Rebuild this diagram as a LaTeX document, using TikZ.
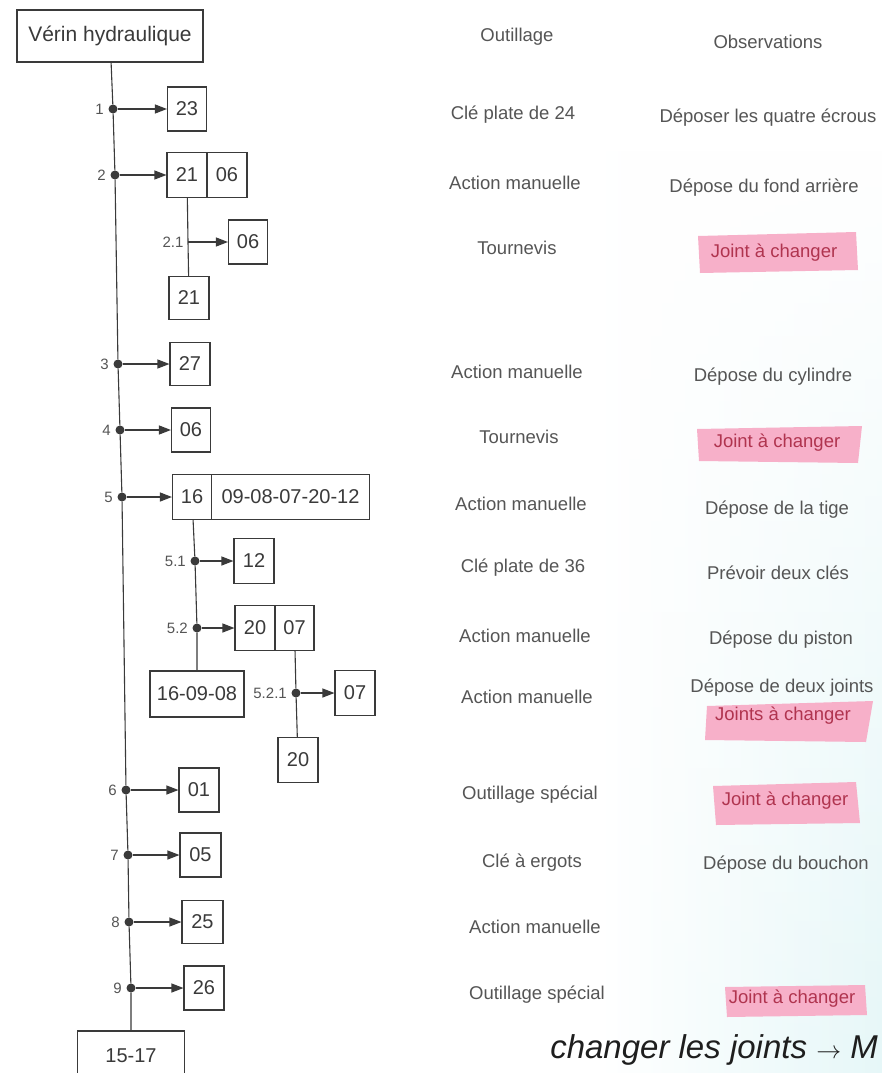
\documentclass[tikz,border=0pt]{standalone}
\usepackage{fontspec}
\setmainfont{Liberation Sans}
\usepackage{tikz}
\usetikzlibrary{arrows.meta,fadings}
\definecolor{Trait}{HTML}{3A3A3A}
\definecolor{Texte}{HTML}{555555}
\definecolor{Rose}{HTML}{F7B0C9}
\definecolor{RougeTexte}{HTML}{B0344F}
\definecolor{Azur}{HTML}{E6F7F8}
\definecolor{Encre}{HTML}{1E1E1E}

\begin{document}
\begin{tikzpicture}[x=1pt,y=-1pt,
    piece/.style={draw=Trait,line width=1.1pt,inner sep=2pt,text=Trait,font=\fontsize{20}{24}\selectfont},
    point/.style={circle,fill=Trait,inner sep=0pt,minimum size=9pt},
    etiq/.style={text=Texte,font=\fontsize{15}{18}\selectfont,label distance=1pt},
    trait/.style={draw=Trait,line width=1.1pt},
    fleche/.style={trait,-{Triangle[length=12pt,width=9pt]}},
    outil/.style={text=Texte,font=\fontsize{18.5}{22}\selectfont},
    marque/.style={text=RougeTexte,font=\fontsize{18.5}{22}\selectfont}]
        \clip (0,0) rectangle (882,1073);
        \fill[white] (0,0) rectangle (882,1073);
        \shade[left color=white,right color=Azur,path fading=north] (600,150) rectangle (882,1073);
        % surlignage
        \fill[Rose] (698,236) -- (856,232) -- (858,270) -- (700,273) -- cycle;
        \fill[Rose] (697,429) -- (862,426) -- (858,463) -- (699,461) -- cycle;
        \fill[Rose] (707,706) -- (873,701) -- (866,742) -- (705,740) -- cycle;
        \fill[Rose] (713,786) -- (856,782) -- (860,823) -- (716,825) -- cycle;
        \fill[Rose] (725,987) -- (865,985) -- (867,1015) -- (727,1017) -- cycle;

        \node[piece,minimum width=186,minimum height=52,font=\fontsize{21}{25}\selectfont] (verin) at (110,36) {Vérin hydraulique};
        \node[point,label={[etiq]left:1}] (p1) at (113,109) {};
        \node[point,label={[etiq]left:2}] (p2) at (115,175) {};
        \node[point,label={[etiq]left:3}] (p3) at (118,364) {};
        \node[point,label={[etiq]left:4}] (p4) at (120,430) {};
        \node[point,label={[etiq]left:5}] (p5) at (122,497) {};
        \node[point,label={[etiq]left:6}] (p6) at (126,790) {};
        \node[point,label={[etiq]left:7}] (p7) at (128,855) {};
        \node[point,label={[etiq]left:8}] (p8) at (129,922) {};
        \node[point,label={[etiq]left:9}] (p9) at (131,988) {};
        \node[piece,minimum width=107,minimum height=50] (fin) at (131,1056) {15-17};

        \node[piece,minimum width=39,minimum height=44] (b1) at (187,109) {23};
        \node[piece,minimum width=40,minimum height=45] (b2a) at (187,175) {21};
        \node[piece,minimum width=40,minimum height=45] (b2b) at (227,175) {06};
        \coordinate[label={[etiq]left:2.1}] (q21) at (188,242);
        \node[piece,minimum width=39,minimum height=44] (b21d) at (248,242) {06};
        \node[piece,minimum width=40,minimum height=43] (b21) at (189,298) {21};
        \node[piece,minimum width=40,minimum height=43] (b3) at (190,364) {27};
        \node[piece,minimum width=39,minimum height=44] (b4) at (191,430) {06};
        \node[piece,minimum width=39,minimum height=45] (b5a) at (192,497) {16};
        \node[piece,minimum width=158,minimum height=45] (b5b) at (290.5,497) {09-08-07-20-12};
        \node[point,label={[etiq]left:5.1}] (p51) at (195,561) {};
        \node[piece,minimum width=40,minimum height=45] (b51) at (254,561) {12};
        \node[point,label={[etiq]left:5.2}] (p52) at (197,628) {};
        \node[piece,minimum width=40,minimum height=45] (b52a) at (255,628) {20};
        \node[piece,minimum width=39,minimum height=45] (b52b) at (294.5,628) {07};
        \node[piece,minimum width=94,minimum height=46] (b5c) at (197,694) {16-09-08};
        \node[point,label={[etiq]left:5.2.1}] (p521) at (296,693) {};
        \node[piece,minimum width=40,minimum height=45] (b521) at (355,693) {07};
        \node[piece,minimum width=40,minimum height=45] (b520) at (298,760) {20};
        \node[piece,minimum width=40,minimum height=44] (b6) at (199,790) {01};
        \node[piece,minimum width=41,minimum height=44] (b7) at (200.5,855) {05};
        \node[piece,minimum width=41,minimum height=43] (b8) at (202.5,922) {25};
        \node[piece,minimum width=40,minimum height=44] (b9) at (204,988) {26};

        \draw[trait] (verin) -- (p1) -- (p2) -- (p3) -- (p4) -- (p5) -- (p6) -- (p7) -- (p8) -- (p9) -- (fin);
        \draw[trait] (b2a) -- (q21) -- (b21);
        \draw[trait] (b5a) -- (p51) -- (p52) -- (b5c);
        \draw[trait] (b52b) -- (p521) -- (b520);
        \foreach \p/\b in {p1/b1,p2/b2a,q21/b21d,p3/b3,p4/b4,p5/b5a,p51/b51,p52/b52a,p521/b521,p6/b6,p7/b7,p8/b8,p9/b9}
          \draw[fleche] (\p) -- (\p -| \b.west);

        % colonnes
        \node[outil] (titre1) at (517,37) {Outillage};
        \node[outil] (titre2) at (768,42) {Observations};
        \node[outil] (o1) at (513,115) {Clé plate de 24};
        \node[outil] (o2) at (515,183) {Action manuelle};
        \node[outil] (o3) at (517,248) {Tournevis};
        \node[outil] (o4) at (517,372) {Action manuelle};
        \node[outil] (o5) at (519,437) {Tournevis};
        \node[outil] (o6) at (521,504) {Action manuelle};
        \node[outil] (o7) at (523,568) {Clé plate de 36};
        \node[outil] (o8) at (525,636) {Action manuelle};
        \node[outil] (o9) at (527,697) {Action manuelle};
        \node[outil] (o10) at (530,795) {Outillage spécial};
        \node[outil] (o11) at (532,863) {Clé à ergots};
        \node[outil] (o12) at (535,927) {Action manuelle};
        \node[outil] (o13) at (537,995) {Outillage spécial};
        \node[outil] (r1) at (768,118) {Déposer les quatre écrous};
        \node[outil] (r2) at (764,188) {Dépose du fond arrière};
        \node[marque] (r3) at (774,253) {Joint à changer};
        \node[outil] (r4) at (773,377) {Dépose du cylindre};
        \node[marque] (r5) at (777,443) {Joint à changer};
        \node[outil] (r6) at (777,510) {Dépose de la tige};
        \node[outil] (r7) at (778,573) {Prévoir deux clés};
        \node[outil] (r8) at (781,640) {Dépose du piston};
        \node[outil] (r9) at (782,688) {Dépose de deux joints};
        \node[marque] (r9b) at (783,716) {Joints à changer};
        \node[marque] (r10) at (785,801) {Joint à changer};
        \node[outil] (r11) at (786,865) {Dépose du bouchon};
        \node[marque] (r13) at (792,999) {Joint à changer};

        \node[text=Encre,font=\fontsize{33}{40}\selectfont\itshape,anchor=base east,inner sep=0pt] (note) at (878,1058) {changer les joints $\rightarrow$ M};
      \end{tikzpicture}
\end{document}
